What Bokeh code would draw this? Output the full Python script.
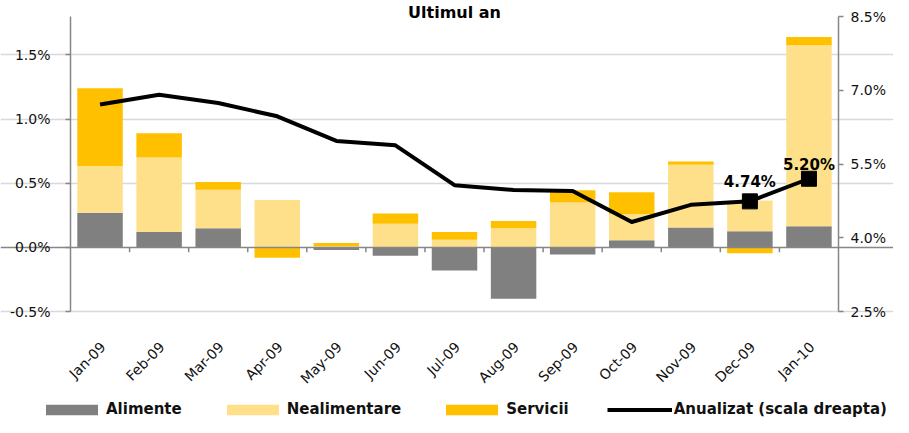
import math
import numpy as np
from bokeh.plotting import figure
from bokeh.models import (Range1d, LinearAxis, FixedTicker, PrintfTickFormatter, Grid,
                          Legend, LegendItem, ColumnDataSource)
from bokeh.embed import file_html
from bokeh.resources import INLINE
from bokeh.core.properties import value

# ---- data ----
months = ["Jan-09", "Feb-09", "Mar-09", "Apr-09", "May-09", "Jun-09", "Jul-09",
          "Aug-09", "Sep-09", "Oct-09", "Nov-09", "Dec-09", "Jan-10"]
alimente = [0.27, 0.12, 0.15, 0.0, -0.02, -0.065, -0.18, -0.40, -0.055, 0.055, 0.155, 0.125, 0.165]
nealimentare = [0.365, 0.58, 0.30, 0.37, 0.01, 0.185, 0.06, 0.15, 0.35, 0.205, 0.49, 0.24, 1.41]
servicii = [0.605, 0.19, 0.06, -0.08, 0.025, 0.08, 0.06, 0.055, 0.095, 0.17, 0.025, -0.045, 0.065]
anualizat = [6.71, 6.91, 6.74, 6.47, 5.97, 5.88, 5.07, 4.97, 4.95, 4.32, 4.67, 4.74, 5.20]
labelled_points = [11, 12]
left_ticks = [-0.5, 0.0, 0.5, 1.0, 1.5]
left_lim = (-0.5, 1.8)
right_ticks = [2.5, 4.0, 5.5, 7.0, 8.5]
right_lim = (2.5, 8.5)
title_text = "Ultimul an"
series_names = ["Alimente", "Nealimentare", "Servicii"]
series_colors = ["#808080", "#FFE08A", "#FFC000"]
line_name = "Anualizat (scala dreapta)"

FONT = "DejaVu Sans"
AXIS_COLOR = "#868686"

# ---- layout (pixels) ----
W, H = 893, 417
PL, PR, PT, PB = 70, 838, 16, 311   # plot-area box inside the canvas

n = len(months)
xs = np.arange(n)

# ranges chosen so that the data limits land on the plot-area box
xpx = (PR - PL) / n
x_range = Range1d(-0.5 - PL / xpx, n - 0.5 + (W - PR) / xpx)
lpx = (PB - PT) / (left_lim[1] - left_lim[0])
y_range = Range1d(left_lim[0] - (H - PB) / lpx, left_lim[1] + PT / lpx)
rpx = (PB - PT) / (right_lim[1] - right_lim[0])
r_range = Range1d(right_lim[0] - (H - PB) / rpx, right_lim[1] + PT / rpx)

p = figure(width=W, height=H, output_backend="svg", toolbar_location=None,
           x_range=x_range, y_range=y_range,
           min_border=0, x_axis_location=None, y_axis_location=None)
p.outline_line_color = None
p.extra_y_ranges = {"right": r_range}

# grid limited to plot area
p.xgrid.visible = False
p.ygrid.ticker = FixedTicker(ticks=[t for t in left_ticks if t != 0])
p.ygrid.bounds = (-0.5, n - 0.5)
p.ygrid.grid_line_color = "#D9D9D9"
p.ygrid.grid_line_width = 1.5

# stacked bars
pos_base = np.zeros(n)
neg_base = np.zeros(n)
bar_renderers = []
for name, vals, col in zip(series_names, [alimente, nealimentare, servicii], series_colors):
    v = np.array(vals, dtype=float)
    bottom = np.where(v >= 0, pos_base, neg_base)
    top = bottom + v
    pos_base = np.where(v >= 0, top, pos_base)
    neg_base = np.where(v < 0, top, neg_base)
    src = ColumnDataSource(dict(x=xs, bottom=bottom, top=top))
    r = p.vbar(x="x", bottom="bottom", top="top", width=0.77, source=src,
               fill_color=col, line_color=None)
    bar_renderers.append(r)

# zero line (category axis) and category boundary ticks
zero = Grid(dimension=1, ticker=FixedTicker(ticks=[0.0]), bounds=(-0.5, n - 0.5),
            grid_line_color=AXIS_COLOR, grid_line_width=1.5, level="glyph")
p.add_layout(zero)
bounds = xs[1:] - 0.5
p.segment(x0=bounds, x1=bounds, y0=np.zeros(len(bounds)), y1=np.full(len(bounds), -5 / lpx),
          line_color=AXIS_COLOR, line_width=1.5)

# month labels (rotated)
p.text(x=xs, y=np.full(n, left_lim[0]), text=months, angle=math.pi / 4,
       x_offset=3, y_offset=33, text_align="right", text_baseline="middle",
       text_font=value(FONT), text_font_size="14px", text_color="#111111")

# line on right scale
line_r = p.line(xs, anualizat, y_range_name="right", line_color="black", line_width=4,
                line_join="round")
lx = [int(i) for i in labelled_points]
ly = [anualizat[i] for i in lx]
p.scatter(lx, ly, y_range_name="right", marker="square", size=15, fill_color="black",
          line_color="black")
lab_src = ColumnDataSource(dict(x=lx, y=ly, t=[f"{v:.2f}%" for v in ly], off=[-19, -14]))
p.text(x="x", y="y", text="t", source=lab_src, y_range_name="right", y_offset="off",
       text_align="center", text_baseline="alphabetic", text_font=value(FONT),
       text_font_style="bold", text_font_size="15px", text_color="black")

# title
p.text(x=[(n - 1) / 2], y=[left_lim[1]], text=[title_text], y_offset=-4,
       text_align="center", text_baseline="alphabetic", text_font=value(FONT),
       text_font_style="bold", text_font_size="16px", text_color="black")

# axes (drawn at fixed data locations, bounded to the data limits)
def style_axis(ax):
    ax.axis_line_color = AXIS_COLOR
    ax.axis_line_width = 1.5
    ax.major_tick_line_color = AXIS_COLOR
    ax.major_tick_line_width = 1.5
    ax.major_tick_out = 5
    ax.major_tick_in = 0
    ax.minor_tick_line_color = None
    ax.major_label_text_font = FONT
    ax.major_label_text_font_size = "14px"
    ax.major_label_text_color = "#111111"

yl = LinearAxis(ticker=FixedTicker(ticks=left_ticks), formatter=PrintfTickFormatter(format="%.1f%%"),
                fixed_location=-0.5, bounds=left_lim)
style_axis(yl)
yl.major_label_standoff = 15
p.add_layout(yl, "left")

yr = LinearAxis(y_range_name="right", ticker=FixedTicker(ticks=right_ticks),
                formatter=PrintfTickFormatter(format="%.1f%%"),
                fixed_location=n - 0.5, bounds=right_lim)
style_axis(yr)
yr.major_label_standoff = 7
p.add_layout(yr, "right")

# legend inside the canvas, below the month labels
items = [LegendItem(label=nm, renderers=[r]) for nm, r in zip(series_names, bar_renderers)]
items.append(LegendItem(label=line_name, renderers=[line_r]))
leg = Legend(items=items, orientation="horizontal", location=(39, -1),
             glyph_width=65, glyph_height=13, label_standoff=2, spacing=38,
             padding=0, margin=0, border_line_color=None, background_fill_alpha=0,
             label_text_font=FONT, label_text_font_style="bold", label_text_font_size="15px",
             label_text_color="#111111")
p.add_layout(leg, "center")

open("out.html", "w").write(file_html(p, INLINE))
